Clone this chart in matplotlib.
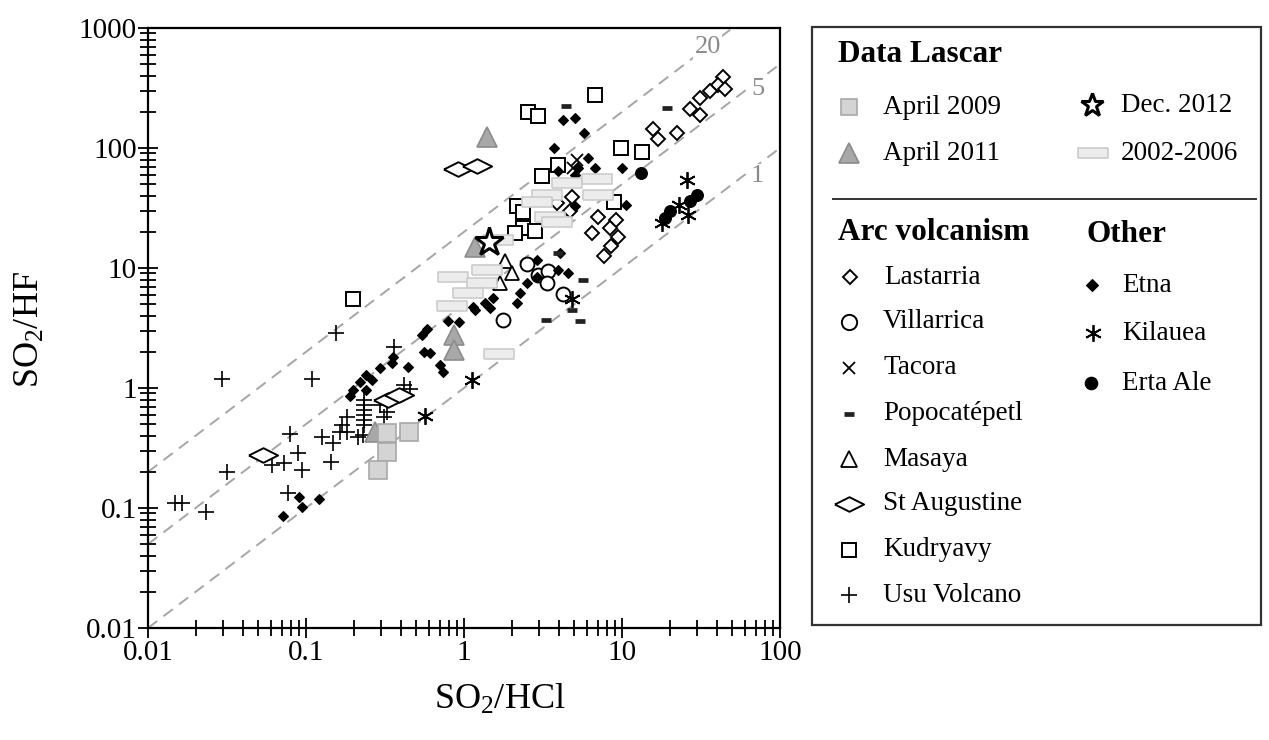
import numpy as np
import matplotlib
matplotlib.use("Agg")
import matplotlib.pyplot as plt
from matplotlib.ticker import LogLocator, FixedLocator, FixedFormatter, NullFormatter
from matplotlib.patches import Rectangle

plt.rcParams['font.family'] = ['Liberation Serif', 'DejaVu Serif']
plt.rcParams['mathtext.fontset'] = 'custom'
plt.rcParams['mathtext.rm'] = 'Liberation Serif'
plt.rcParams['mathtext.it'] = 'Liberation Serif:italic'
plt.rcParams['mathtext.bf'] = 'Liberation Serif:bold'

# ---------------- data (SO2/HCl, SO2/HF) ----------------
usu_x = [0.0148, 0.0163, 0.0233, 0.0315, 0.0292, 0.109, 0.0793, 0.0607, 0.0726, 0.0893,
         0.0938, 0.0773, 0.127, 0.149, 0.145, 0.154, 0.361, 0.417, 0.455, 0.233,
         0.233, 0.233, 0.233, 0.233, 0.233, 0.181, 0.168, 0.164, 0.181, 0.294,
         0.324, 0.312, 0.214, 0.231]
usu_y = [0.111, 0.111, 0.092, 0.20, 1.19, 1.18, 0.414, 0.228, 0.236, 0.286,
         0.207, 0.133, 0.393, 0.346, 0.243, 2.86, 2.21, 1.06, 0.975, 0.79,
         0.72, 0.656, 0.596, 0.541, 0.492, 0.577, 0.492, 0.433, 0.433, 0.721,
         0.635, 0.577, 0.393, 0.406]

staug_x = [0.0537, 0.330, 0.388, 0.92, 1.20]
staug_y = [0.277, 0.794, 0.875, 66.5, 70.8]

lastarria_x = [43.6, 40.5, 44.9, 36.1, 31.2, 26.9, 31.2, 15.7, 16.9, 22.3,
               7.05, 9.16, 6.46, 8.40, 9.43, 8.52, 7.69, 4.83, 4.69, 3.88]
lastarria_y = [391, 335, 310, 299, 261, 211, 188, 144, 119, 133,
               26.6, 25.1, 19.6, 21.5, 18.1, 15.3, 12.6, 39.1, 29.9, 34.8]

villarrica_x = [2.51, 2.94, 3.40, 3.35, 4.24, 1.77]
villarrica_y = [10.8, 8.75, 9.44, 7.5, 6.07, 3.69]

tacora_x = [5.17, 4.9]
tacora_y = [79.4, 68.0]

popo_x = [4.42, 19.3, 5.66, 3.30, 5.42, 4.83, 3.94]
popo_y = [224, 215, 7.94, 3.69, 3.62, 4.47, 13.3]

masaya_x = [1.82, 2.01, 1.69]
masaya_y = [11.4, 9.08, 7.5]

kudryavy_x = [0.199, 6.75, 2.54, 2.94, 9.86, 13.4, 3.94, 3.12, 2.16, 2.36, 2.36, 2.10, 8.9, 2.81]
kudryavy_y = [5.48, 277, 200, 185, 100, 92.6, 72.1, 58.4, 32.9, 29.3, 21.5, 19.6, 35.5, 20.3]

etna_x = [4.23, 5.04, 5.75, 3.71, 6.09, 5.27, 6.75, 5.04, 3.94, 10.0,
          10.6, 5.04, 4.05, 4.55, 3.94, 2.90, 2.51, 2.26, 2.16, 1.53,
          1.36, 1.17, 1.46, 0.93, 0.79, 0.583, 0.542, 0.558, 0.61, 0.705,
          0.736, 0.443, 0.356, 0.35, 0.294, 0.24, 0.262, 0.22, 0.24, 0.198,
          0.19, 0.0714, 0.0904, 0.0945, 0.121, 1.14, 2.90]
etna_y = [171, 178, 133, 100, 82.5, 68.1, 68.1, 59.6, 64.3, 68.1,
          33.5, 32.9, 13.3, 9.08, 9.62, 8.41, 7.5, 6.19, 5.11, 5.62,
          5.11, 4.47, 4.64, 3.55, 3.62, 3.10, 2.77, 2.0, 1.96, 1.55,
          1.36, 1.50, 1.81, 1.62, 1.47, 1.28, 1.17, 1.12, 0.962, 0.962,
          0.857, 0.0858, 0.124, 0.102, 0.119, 4.73, 11.7]

kilauea_x = [25.8, 22.9, 26.2, 17.9, 1.12, 0.566, 4.83]
kilauea_y = [54.1, 33.5, 27.6, 23.7, 1.17, 0.585, 5.52]

ertaale_x = [13.2, 29.8, 26.9, 20.1, 18.7]
ertaale_y = [61.9, 40.6, 36.2, 29.9, 26.1]

apr2009_x = [0.324, 0.449, 0.324, 0.287]
apr2009_y = [0.42, 0.433, 0.294, 0.207]

apr2011_x = [1.39, 1.17, 0.865, 0.865, 0.274]
apr2011_y = [124, 15.1, 2.77, 2.07, 0.43]

dec2012_x = [1.43]
dec2012_y = [16.6]

y0206_x = [4.49, 6.95, 3.35, 7.05, 3.50, 3.88, 2.90, 1.64, 1.39, 0.851, 1.30, 1.06, 0.84, 1.67]
y0206_y = [51.1, 55.2, 40.6, 40.6, 26.6, 24.2, 35.5, 17.1, 9.62, 8.41, 7.5, 6.19, 4.82, 1.92]

ratio_lines = [20, 5, 1]
ratio_labels = ['20', '5', '1']

x_ticks = [0.01, 0.1, 1, 10, 100]
x_ticklabels = ['0.01', '0.1', '1', '10', '100']
y_ticks = [0.01, 0.1, 1, 10, 100, 1000]
y_ticklabels = ['0.01', '0.1', '1', '10', '100', '1000']

# ---------------- markers ----------------
wide_diamond = [(-1, 0), (0, 0.5), (1, 0), (0, -0.5), (-1, 0)]
wide_rect = [(-1.5, -0.5), (1.5, -0.5), (1.5, 0.5), (-1.5, 0.5), (-1.5, -0.5)]
asterisk6 = (6, 2, 0)

styles = {
    'Lastarria': dict(marker='D', ms=7.4, mfc='white', mec='black', mew=1.4),
    'Villarrica': dict(marker='o', ms=10, mfc='white', mec='black', mew=1.4),
    'Tacora': dict(marker='x', ms=9, mec='black', mew=1.3),
    'Popocatépetl': dict(marker='_', ms=7, mec='#222222', mew=3.4),
    'Masaya': dict(marker='^', ms=10, mfc='white', mec='black', mew=1.3),
    'St Augustine': dict(marker=wide_diamond, ms=21, mfc='white', mec='black', mew=1.4),
    'Kudryavy': dict(marker='s', ms=9.5, mfc='white', mec='black', mew=1.4),
    'Usu Volcano': dict(marker='+', ms=11, mec='black', mew=1.2),
    'Etna': dict(marker='D', ms=4.6, mfc='black', mec='black', mew=0.8),
    'Kilauea': dict(marker=asterisk6, ms=12, mec='black', mew=1.3),
    'Erta Ale': dict(marker='o', ms=8.5, mfc='black', mec='black', mew=0.8),
    'April 2009': dict(marker='s', ms=13.5, mfc='#d4d4d4', mec='#a8a8a8', mew=1.2),
    'April 2011': dict(marker='^', ms=15, mfc='#a8a8a8', mec='#8c8c8c', mew=1.2),
    'Dec. 2012': dict(marker='*', ms=21, mfc='white', mec='black', mew=2.2),
    '2002-2006': dict(marker=wide_rect, ms=22, mfc='#ececec', mec='#cccccc', mew=1.2),
}

W, H = 1269, 740
fig = plt.figure(figsize=(W / 100, H / 100), dpi=100)
ax = fig.add_axes([148 / W, 1 - 628 / H, 632 / W, 600 / H])
ax.set_xscale('log')
ax.set_yscale('log')
ax.set_xlim(0.01, 100)
ax.set_ylim(0.01, 1000)

# ratio lines
xx = np.array([0.01, 100])
for r in ratio_lines:
    ax.plot(xx, r * xx, ls=(0, (6, 4)), color='#a6a6a6', lw=1.4, zorder=1)
for lab, (lx, ly) in zip(ratio_labels, [(35, 700), (72, 310), (72, 58)]):
    ax.text(lx, ly, lab, fontsize=19, color='#8a8a8a', ha='center', va='center',
            zorder=2, bbox=dict(facecolor='white', edgecolor='none', pad=1))

series = [
    ('Usu Volcano', usu_x, usu_y),
    ('St Augustine', staug_x, staug_y),
    ('Kudryavy', kudryavy_x, kudryavy_y),
    ('Lastarria', lastarria_x, lastarria_y),
    ('Villarrica', villarrica_x, villarrica_y),
    ('Masaya', masaya_x, masaya_y),
    ('Etna', etna_x, etna_y),
    ('Tacora', tacora_x, tacora_y),
    ('Popocatépetl', popo_x, popo_y),
    ('Kilauea', kilauea_x, kilauea_y),
    ('Erta Ale', ertaale_x, ertaale_y),
    ('2002-2006', y0206_x, y0206_y),
    ('April 2011', apr2011_x, apr2011_y),
    ('April 2009', apr2009_x, apr2009_y),
    ('Dec. 2012', dec2012_x, dec2012_y),
]
for z, (name, xs, ys) in enumerate(series):
    ax.plot(xs, ys, ls='none', zorder=3 + z, **styles[name])

for s in ax.spines.values():
    s.set_linewidth(1.6)
ax.xaxis.set_major_locator(FixedLocator(x_ticks))
ax.xaxis.set_major_formatter(FixedFormatter(x_ticklabels))
ax.yaxis.set_major_locator(FixedLocator(y_ticks))
ax.yaxis.set_major_formatter(FixedFormatter(y_ticklabels))
ax.xaxis.set_minor_locator(LogLocator(base=10, subs=np.arange(2, 10)))
ax.yaxis.set_minor_locator(LogLocator(base=10, subs=np.arange(2, 10)))
ax.xaxis.set_minor_formatter(NullFormatter())
ax.yaxis.set_minor_formatter(NullFormatter())
ax.tick_params(which='both', direction='inout', top=False, right=False, width=1.3)
ax.tick_params(which='major', length=14, labelsize=21)
ax.tick_params(axis='y', which='major', pad=1)
ax.tick_params(axis='x', which='major', pad=2)
ax.tick_params(which='minor', length=11)

fig.text(500 / W, 1 - 700 / H, r'$\mathrm{SO_2/HCl}$', fontsize=26, ha='center', va='center')
fig.text(30 / W, 1 - 330 / H, r'$\mathrm{SO_2/HF}$', fontsize=26, ha='center', va='center',
         rotation=90)

# ---------------- legend panel ----------------
lax = fig.add_axes([0, 0, 1, 1], facecolor='none')
lax.set_xlim(0, W)
lax.set_ylim(H, 0)
lax.axis('off')
lax.add_patch(Rectangle((812, 27), 449, 598, fill=False, edgecolor='#333333', lw=1.6))
lax.plot([833, 1256], [199, 199], color='#333333', lw=1.4)

lax.text(838, 55, 'Data Lascar', fontsize=22.5, fontweight='bold', va='center')
lax.text(838, 232, 'Arc volcanism', fontsize=22.5, fontweight='bold', va='center')
lax.text(1087, 234, 'Other', fontsize=22.5, fontweight='bold', va='center')

legend_items = [
    ('April 2009', 849, 107, 883),
    ('April 2011', 849, 153, 883),
    ('Dec. 2012', 1092, 105, 1121),
    ('2002-2006', 1093, 153, 1121),
    ('Lastarria', 850, 277, 884),
    ('Villarrica', 849, 322, 883),
    ('Tacora', 849, 368, 883),
    ('Popocatépetl', 849, 414, 883),
    ('Masaya', 849, 459, 883),
    ('St Augustine', 849, 504, 883),
    ('Kudryavy', 849, 550, 883),
    ('Usu Volcano', 849, 595, 883),
    ('Etna', 1092, 285, 1122),
    ('Kilauea', 1093, 333, 1122),
    ('Erta Ale', 1091, 383, 1122),
]
legend_ms = {'April 2009': 12, 'April 2011': 14, 'Dec. 2012': 17, '2002-2006': 22,
             'Lastarria': 7, 'Villarrica': 11, 'Tacora': 9, 'Popocatépetl': 7,
             'Masaya': 11, 'St Augustine': 21, 'Kudryavy': 10, 'Usu Volcano': 11,
             'Etna': 6, 'Kilauea': 12, 'Erta Ale': 9}
for name, mx, my, tx in legend_items:
    st = dict(styles[name])
    st['ms'] = legend_ms[name]
    lax.plot([mx], [my], ls='none', **st)
    lax.text(tx, my, name, fontsize=19.5, va='center', ha='left')

fig.savefig('out.png', dpi=100)
